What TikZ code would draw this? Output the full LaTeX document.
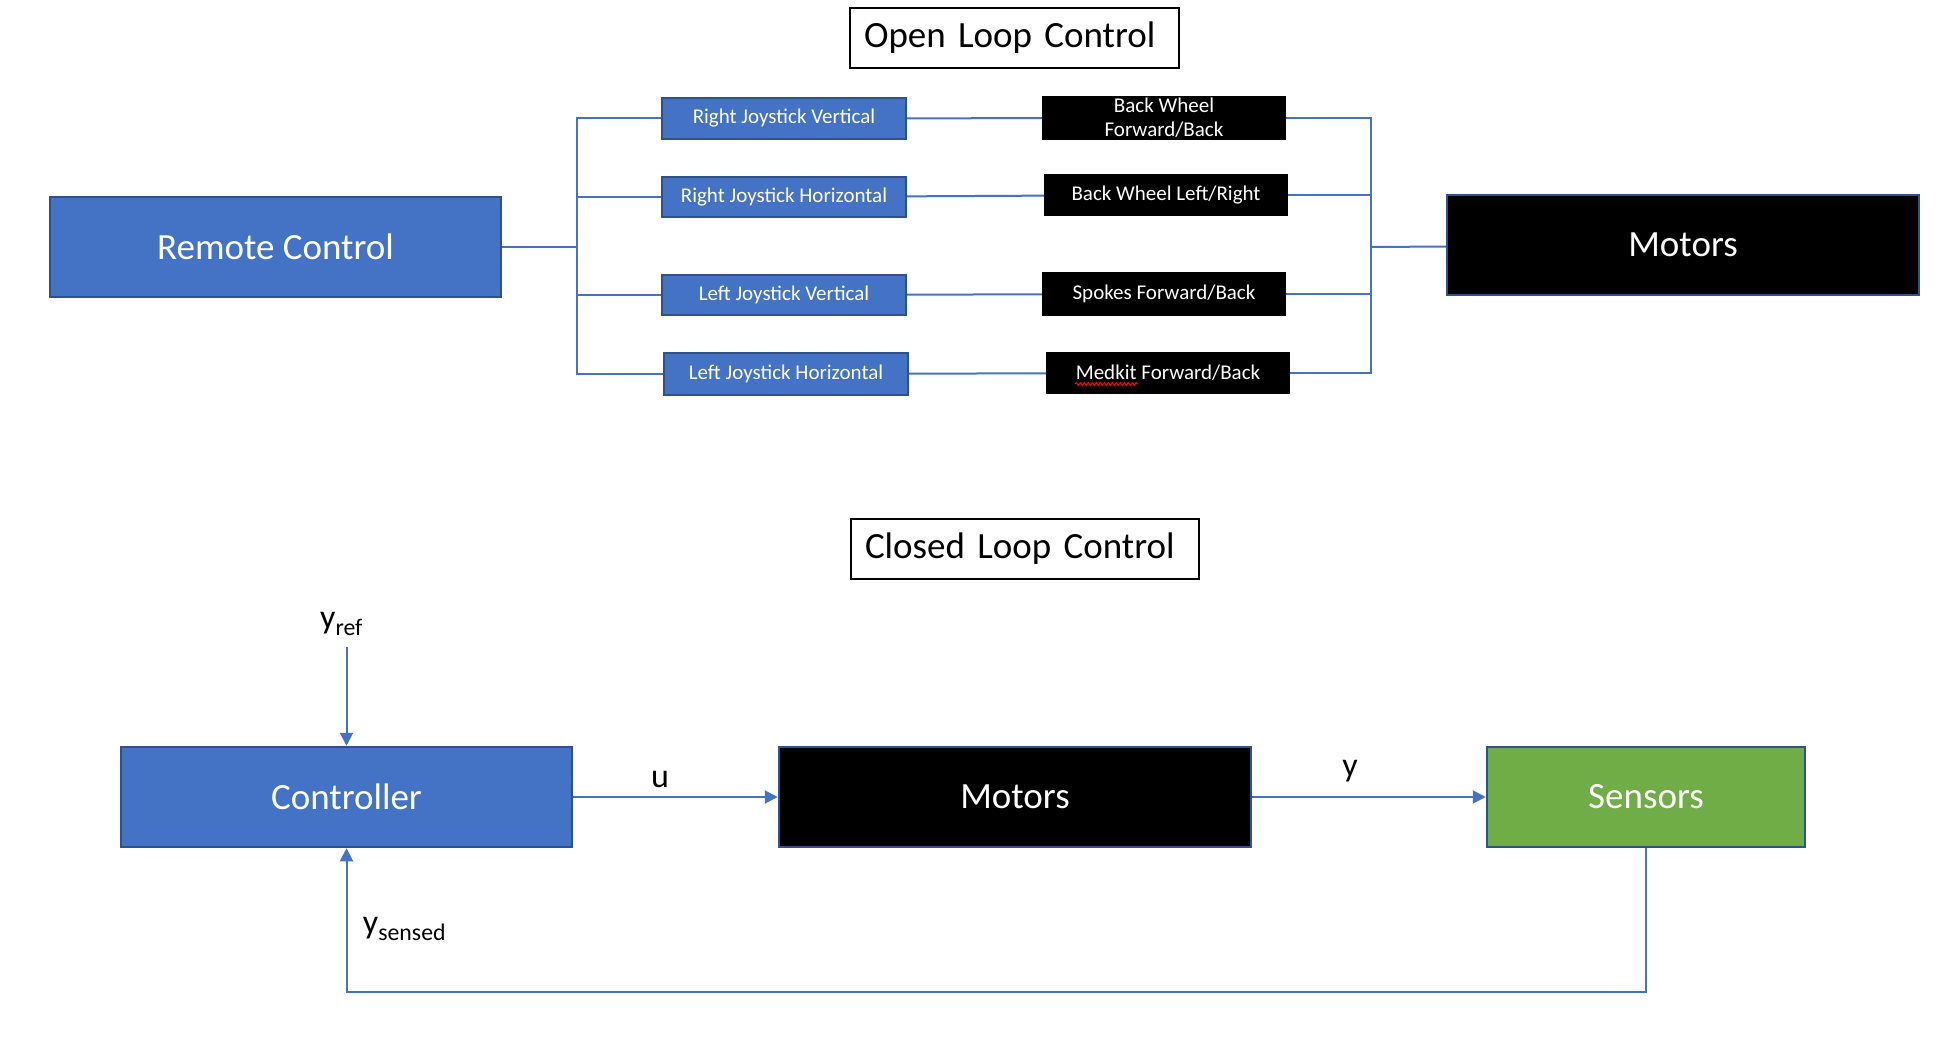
\documentclass[tikz,border=0pt]{standalone}
\usepackage{fontspec}
\setmainfont{Carlito}
\usetikzlibrary{arrows.meta}
\usetikzlibrary{decorations.pathmorphing}
\definecolor{mblue}{HTML}{4472C4}
\definecolor{dblue}{HTML}{2F528F}
\definecolor{mgreen}{HTML}{70AD47}

\begin{document}
\begin{tikzpicture}[x=1pt, y=-1pt,
    big/.style={draw=dblue, line width=2.5pt, text=white, font=\fontsize{37}{44}\selectfont, minimum height=100pt},
    small/.style={text=white, font=\fontsize{21}{24}\selectfont, minimum width=244pt, align=center, inner sep=0pt},
    title/.style={draw, line width=2pt, font=\fontsize{37}{44}\selectfont, align=left, inner xsep=14pt, minimum height=60pt},
    wire/.style={mblue, line width=2pt},
    arr/.style={wire, -{Triangle[length=13pt, width=13pt]}},
    lbl/.style={font=\fontsize{34}{40}\selectfont}]
    \useasboundingbox (0,0) rectangle (1952,1040);

    \node [title, text width=301pt] (ol) at (1014.5,38) {Open Loop Control};

    \node [big, fill=mblue, minimum width=451pt] (rc) at (275.5,247) {Remote Control};
    \node [big, fill=black, minimum width=472pt] (mt) at (1683,245) {Motors};

    \node [small, fill=mblue, draw=dblue, line width=2pt, minimum height=41pt] (rjv) at (784,118.5) {Right Joystick Vertical};
    \node [small, fill=mblue, draw=dblue, line width=2pt, minimum height=40pt] (rjh) at (784,197) {Right Joystick Horizontal};
    \node [small, fill=mblue, draw=dblue, line width=2pt, minimum height=40pt] (ljv) at (784,295) {Left Joystick Vertical};
    \node [small, fill=mblue, draw=dblue, line width=2pt, minimum height=42pt] (ljh) at (786,374) {Left Joystick Horizontal};

    \node [small, fill=black, minimum height=44pt] (bwfb) at (1164,118) {Back Wheel\\Forward/Back};
    \node [small, fill=black, minimum height=42pt] (bwlr) at (1166,195) {Back Wheel Left/Right};
    \node [small, fill=black, minimum height=44pt] (sfb) at (1164,294) {Spokes Forward/Back};
    \node [small, fill=black, minimum height=42pt] (mfb) at (1168,373) {Medkit Forward/Back};
    \draw [red, line width=1pt, decorate, decoration={snake, amplitude=1.5pt, segment length=4pt}] (1075,384) -- (1138,384);

    \coordinate (lb) at (577,247);
    \coordinate (rb) at (1371,247);
    \draw [wire] (rc) -- (lb);
    \foreach \n in {rjv,rjh,ljv,ljh}
        \draw [wire] (\n.west) -| (lb);
    \foreach \n in {bwfb,bwlr,sfb,mfb}
        \draw [wire] (\n.east) -| (rb);
    \draw [wire] (rb) -- (mt);
    \draw [wire] (rjv) -- (bwfb);
    \draw [wire] (rjh) -- (bwlr);
    \draw [wire] (ljv) -- (sfb);
    \draw [wire] (ljh) -- (mfb);

    % closed loop
    \node [title, text width=320pt] (cl) at (1025,549) {Closed Loop Control};

    \node [big, fill=mblue, minimum width=451pt] (ctrl) at (346.5,797) {Controller};
    \node [big, fill=black, minimum width=472pt] (mot) at (1015,797) {Motors};
    \node [big, fill=mgreen, minimum width=318pt] (sens) at (1646,797) {Sensors};

    \node [lbl, anchor=base] (yref) at (341.5,628) {y\textsubscript{ref}};
    \node [lbl] (u) at (660,780) {u};
    \node [lbl] (y) at (1350,771) {y};
    \node [lbl, anchor=base] (ys) at (404.5,933) {y\textsubscript{sensed}};

    \coordinate (yin) at (346.5,647);
    \draw [arr] (yin) -- (ctrl);
    \draw [arr] (ctrl) -- (mot);
    \draw [arr] (mot) -- (sens);
    \draw [arr] (sens.south) -- ++(0,144) -| (ctrl.south);
\end{tikzpicture}
\end{document}
